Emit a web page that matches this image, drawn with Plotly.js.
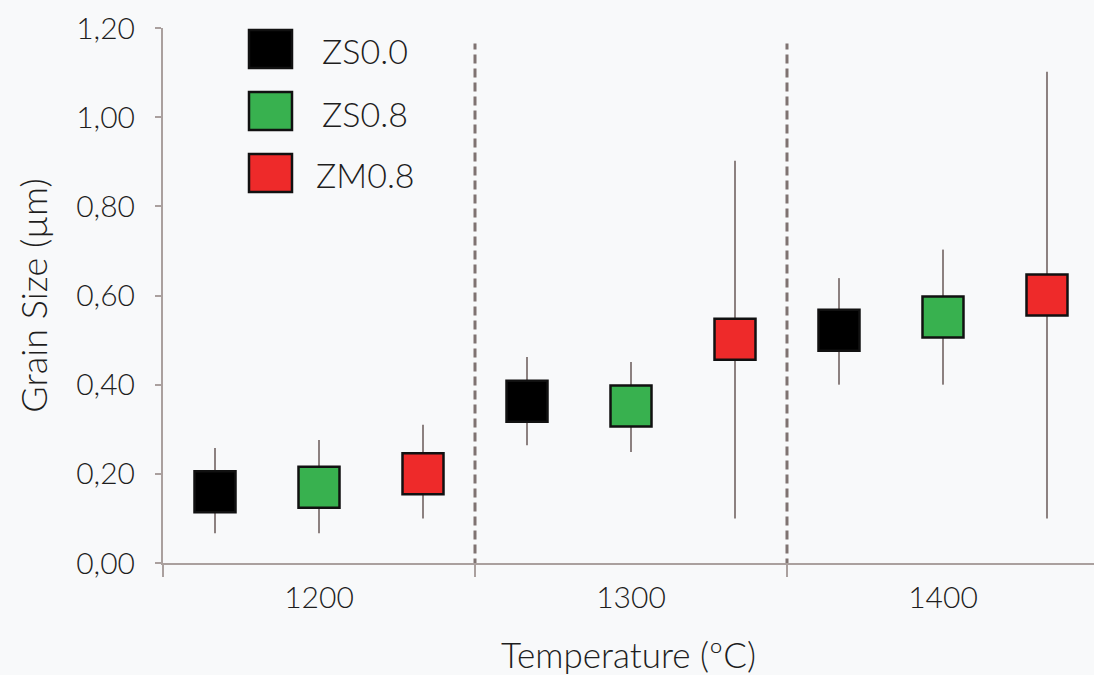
<!DOCTYPE html>
<html>
<head>
<meta charset="utf-8">
<script src="https://cdn.plot.ly/plotly-3.0.1.min.js"></script>
<style>html,body{margin:0;padding:0;background:#f8f9fa;}#chart{width:1094px;height:675px;}</style>
</head>
<body>
<div id="chart"></div>
<script>
// Data
const temperatures = ['1200', '1300', '1400'];
const seriesNames = ['ZS0.0', 'ZS0.8', 'ZM0.8'];
const seriesColors = ['#000000', '#38b14f', '#ee2a2a'];
const zs00Mean = [0.160, 0.363, 0.522];
const zs00Max = [0.258, 0.462, 0.639];
const zs00Min = [0.067, 0.264, 0.400];
const zs08Mean = [0.170, 0.352, 0.552];
const zs08Max = [0.276, 0.451, 0.703];
const zs08Min = [0.067, 0.249, 0.400];
const zm08Mean = [0.200, 0.502, 0.601];
const zm08Max = [0.310, 0.902, 1.102];
const zm08Min = [0.100, 0.100, 0.100];
const yTickVals = [0, 0.2, 0.4, 0.6, 0.8, 1.0, 1.2];

const means = [zs00Mean, zs08Mean, zm08Mean];
const maxs = [zs00Max, zs08Max, zm08Max];
const mins = [zs00Min, zs08Min, zm08Min];

const whisker = '#8c8180';
const axisCol = '#aaa09e';
const font = 'Lato, "Open Sans", sans-serif';
const txt = '#1e1e1e';

const traces = seriesNames.map((name, s) => ({
  type: 'scatter',
  mode: 'markers',
  name: name,
  x: temperatures,
  y: means[s],
  marker: {symbol: 'square', size: 41, color: seriesColors[s], line: {color: '#111', width: 2.5}},
  error_y: {
    type: 'data', symmetric: false,
    array: maxs[s].map((v, i) => v - means[s][i]),
    arrayminus: means[s].map((v, i) => v - mins[s][i]),
    color: whisker, thickness: 2, width: 0
  },
  showlegend: false,
  hoverinfo: 'x+y+name'
}));

// Page geometry helpers for the legend (paper coordinates)
const L = 163, R = 0, T = 28, B = 112, W = 1094, H = 675;
const pw = W - L - R, ph = H - T - B;
const px = v => (v - L) / pw;
const py = v => (H - B - v) / ph;

const shapes = [];
// dashed separators between temperature groups
for (let i = 0; i < temperatures.length - 1; i++) {
  shapes.push({type: 'line', xref: 'x', yref: 'y', x0: i + 0.5, x1: i + 0.5, y0: -0.01, y1: 1.165,
    line: {color: '#7f7371', width: 3, dash: '9px,5px'}, layer: 'below'});
}
const annotations = [];
const legRowY = [49, 111, 173];
seriesNames.forEach((name, s) => {
  const cy = legRowY[s];
  shapes.push({type: 'rect', xref: 'paper', yref: 'paper',
    x0: px(249), x1: px(292), y0: py(cy + 19), y1: py(cy - 19),
    fillcolor: seriesColors[s], line: {color: '#111', width: 2.5}});
  annotations.push({xref: 'paper', yref: 'paper', x: px(365), y: py(cy + 2), xanchor: 'center', yanchor: 'middle',
    text: name, showarrow: false, font: {family: font, size: 34, color: txt, weight: 300}});
});

const layout = {
  width: W, height: H,
  margin: {l: L, r: R, t: T, b: B},
  paper_bgcolor: '#f8f9fa',
  plot_bgcolor: '#f8f9fa',
  separators: ',.',
  scattermode: 'group',
  scattergap: 0,
  showlegend: false,
  font: {family: font, color: txt},
  xaxis: {
    type: 'category', categoryorder: 'array', categoryarray: temperatures,
    range: [-0.5, 2.484],
    tickson: 'boundaries', ticks: 'outside', ticklen: 12, tickwidth: 2, tickcolor: axisCol,
    showline: true, linecolor: axisCol, linewidth: 2,
    showgrid: false, zeroline: false,
    tickfont: {family: font, size: 30, color: txt, weight: 300},
    ticklabelstandoff: 7,
    title: {text: 'Temperature (ºC)', font: {family: font, size: 35, color: txt, weight: 300}, standoff: 30}
  },
  yaxis: {
    range: [0, 1.2],
    tickvals: yTickVals, tickformat: '.2f',
    ticks: 'outside', ticklen: 6, tickwidth: 2, tickcolor: axisCol,
    showline: true, linecolor: axisCol, linewidth: 2,
    showgrid: false, zeroline: false,
    tickfont: {family: font, size: 30, color: txt, weight: 300},
    ticklabelstandoff: 14,
    title: {text: 'Grain Size (µm)', font: {family: font, size: 36, color: txt, weight: 300}, standoff: 18}
  },
  shapes: shapes,
  annotations: annotations
};

Plotly.newPlot('chart', traces, layout, {displayModeBar: false, staticPlot: true});
</script>
</body>
</html>
